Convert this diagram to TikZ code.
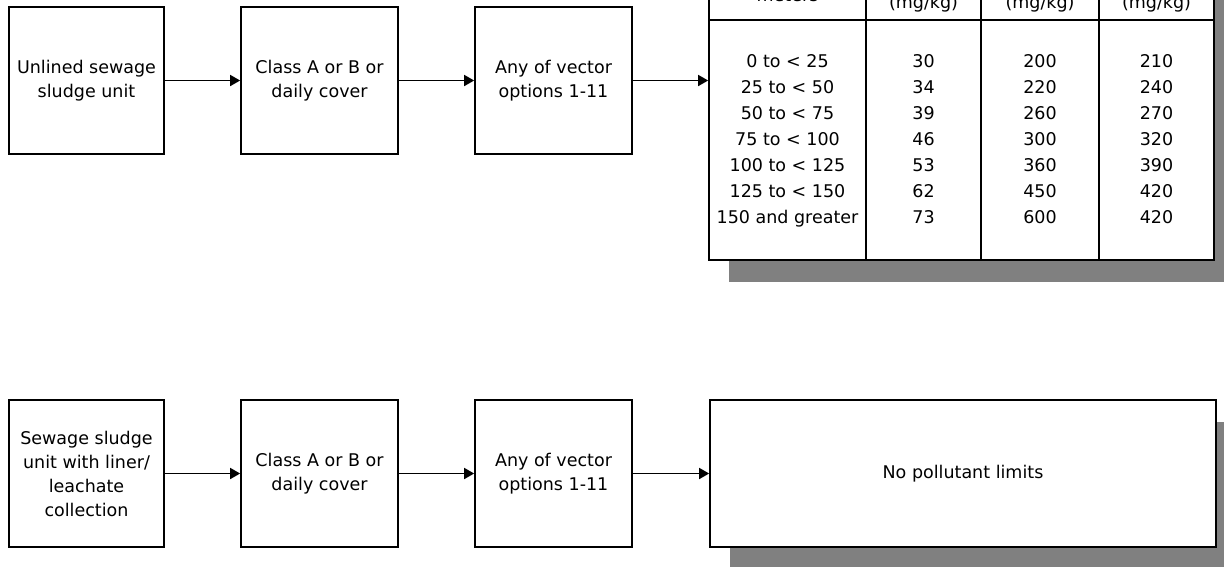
\documentclass[tikz,border=0pt]{standalone}
\usepackage{fontspec}
\setmainfont{DejaVu Sans}
\usetikzlibrary{arrows.meta,shadows}
\definecolor{shadowgray}{HTML}{808080}
\tikzset{
  box/.style={draw=black, line width=1.7pt, fill=white, inner sep=0pt, align=center,
    font=\fontsize{17.5}{24}\selectfont},
  shadowbox/.style={box, drop shadow={shadow xshift=20pt, shadow yshift=-22pt, fill=shadowgray, opacity=1}},
  conn/.style={line width=1.7pt, -{Triangle[length=10pt,width=11pt]}},
  cell/.style={anchor=base, inner sep=0pt, font=\fontsize{17.5}{24}\selectfont},
  rule/.style={line width=1.7pt}
}
\begin{document}
\begin{tikzpicture}[x=1pt,y=-1pt]
\useasboundingbox (0,0) rectangle (1224,566);
\clip (0,0) rectangle (1224,566);
\fill[white] (0,0) rectangle (1224,566);
% top row
\node[box, minimum width=155pt, minimum height=147pt] (a1) at (86.5,80.5) {Unlined sewage\\sludge unit};
\node[box, minimum width=157pt, minimum height=147pt] (a2) at (319.5,80.5) {Class A or B or\\daily cover};
\node[box, minimum width=157pt, minimum height=147pt] (a3) at (553.5,80.5) {Any of vector\\options 1-11};
\node[shadowbox, minimum width=505pt, minimum height=310pt] (tab) at (961.5,105) {};
\coordinate (c1) at (866,-50);
\coordinate (c2) at (981,-50);
\coordinate (c3) at (1099,-50);
\draw[rule] (c1) -- (c1 |- tab.south);
\draw[rule] (c2) -- (c2 |- tab.south);
\draw[rule] (c3) -- (c3 |- tab.south);
\coordinate (hl) at (709,20);
\draw[rule] (hl) -- (hl -| tab.east);
\node[cell] (h1) at (787.5,1) {meters};
\node[cell] (h2) at (923.5,8.5) {(mg/kg)};
\node[cell] (h3) at (1040,8.5) {(mg/kg)};
\node[cell] (h4) at (1156.5,8.5) {(mg/kg)};
% rows
\node[cell] (r1a) at (787.5,67) {0 to < 25};
\node[cell] (r1b) at (923.5,67) {30};
\node[cell] (r1c) at (1040,67) {200};
\node[cell] (r1d) at (1156.5,67) {210};
\node[cell] (r2a) at (787.5,93) {25 to < 50};
\node[cell] (r2b) at (923.5,93) {34};
\node[cell] (r2c) at (1040,93) {220};
\node[cell] (r2d) at (1156.5,93) {240};
\node[cell] (r3a) at (787.5,119) {50 to < 75};
\node[cell] (r3b) at (923.5,119) {39};
\node[cell] (r3c) at (1040,119) {260};
\node[cell] (r3d) at (1156.5,119) {270};
\node[cell] (r4a) at (787.5,145) {75 to < 100};
\node[cell] (r4b) at (923.5,145) {46};
\node[cell] (r4c) at (1040,145) {300};
\node[cell] (r4d) at (1156.5,145) {320};
\node[cell] (r5a) at (787.5,171) {100 to < 125};
\node[cell] (r5b) at (923.5,171) {53};
\node[cell] (r5c) at (1040,171) {360};
\node[cell] (r5d) at (1156.5,171) {390};
\node[cell] (r6a) at (787.5,197) {125 to < 150};
\node[cell] (r6b) at (923.5,197) {62};
\node[cell] (r6c) at (1040,197) {450};
\node[cell] (r6d) at (1156.5,197) {420};
\node[cell] (r7a) at (787.5,223) {150 and greater};
\node[cell] (r7b) at (923.5,223) {73};
\node[cell] (r7c) at (1040,223) {600};
\node[cell] (r7d) at (1156.5,223) {420};
\draw[conn] (a1.east) -- (a2.west);
\draw[conn] (a2.east) -- (a3.west);
\draw[conn] (a3.east) -- (a3.east -| tab.west);
% bottom row
\node[box, minimum width=155pt, minimum height=147pt] (b1) at (86.5,473.5) {Sewage sludge\\unit with liner/\\leachate\\collection};
\node[box, minimum width=157pt, minimum height=147pt] (b2) at (319.5,473.5) {Class A or B or\\daily cover};
\node[box, minimum width=157pt, minimum height=147pt] (b3) at (553.5,473.5) {Any of vector\\options 1-11};
\node[shadowbox, minimum width=506pt, minimum height=147pt] (b4) at (963,473.5) {No pollutant limits};
\draw[conn] (b1.east) -- (b2.west);
\draw[conn] (b2.east) -- (b3.west);
\draw[conn] (b3.east) -- (b4.west);
\end{tikzpicture}
\end{document}
